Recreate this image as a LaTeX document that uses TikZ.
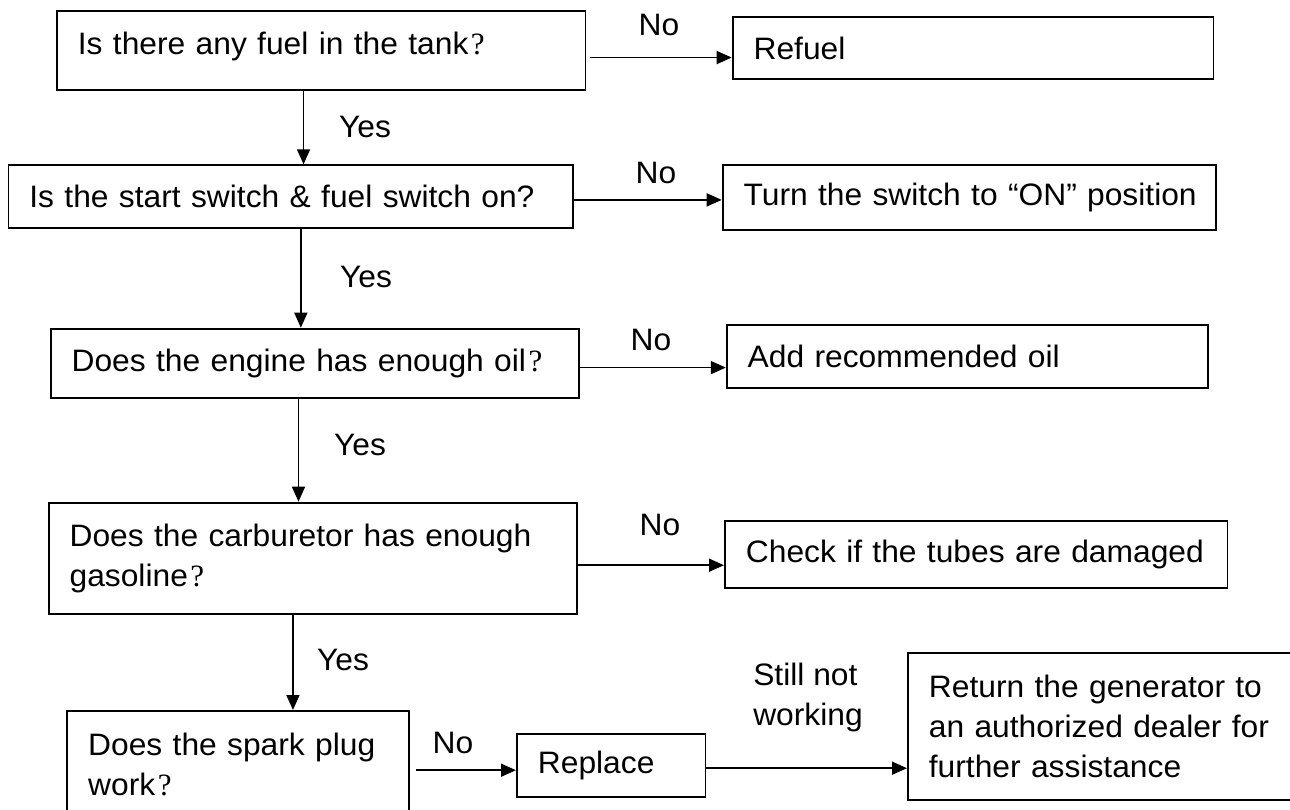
\documentclass[tikz,border=0pt]{standalone}
\usepackage{fontspec}
\setmainfont{Liberation Sans}[FakeStretch=1.025]
\newfontfamily\qfont{Liberation Serif}
\usetikzlibrary{arrows.meta}
\newcommand\fwq{\kern0.08em{\qfont ?}}

\begin{document}
\begin{tikzpicture}[x=0.5pt, y=-0.5pt,
  font=\fontsize{15.5pt}{20pt}\selectfont,
  box/.style={draw, line width=0.9pt, anchor=north west, inner xsep=10.5pt, inner ysep=0pt, align=left},
  lbl/.style={inner sep=0pt},
  arr/.style={line width=0.8pt, -{Triangle[length=7.5pt,width=6.5pt]}}]
\useasboundingbox (0,0) rectangle (1290,809);
\clip (0,0) rectangle (1290,809);
\fill[white] (0,0) rectangle (1290,809);
% questions, left column
\node[box, minimum width=264.25pt, minimum height=39.65pt, text width=243.25pt, text height=10.7pt, text depth=7.1pt] (fuel) at (56,10) {Is there any fuel in the tank\fwq};
\node[box, minimum width=282.25pt, minimum height=31.2pt, text width=261.25pt] (switch) at (7.5,164.3) {\mbox{Is the start switch \& fuel switch on?}};
\node[box, minimum width=264.3pt, minimum height=34.5pt, text width=243.3pt] (oil) at (49.7,327.7) {Does the engine has enough oil\fwq};
\node[box, minimum width=264.15pt, minimum height=55.8pt, text width=243.15pt] (carb) at (47.7,501.7) {Does the carburetor has enough\\gasoline\fwq};
\node[box, minimum width=171pt, minimum height=53.3pt, text width=150pt] (spark) at (66.3,710) {Does the spark plug\\work\fwq};
% actions, right column
\node[box, minimum width=240.45pt, minimum height=31.15pt, text width=219.45pt] (refuel) at (731.7,16) {Refuel};
\node[box, minimum width=246.65pt, minimum height=32.35pt, text width=225.65pt] (turn) at (721.7,164.3) {\mbox{Turn the switch to “ON” position}};
\node[box, minimum width=240.45pt, minimum height=31.35pt, text width=219.45pt] (addoil) at (725.8,324) {Add recommended oil};
\node[box, minimum width=251.3pt, minimum height=33.35pt, text width=230.3pt] (tubes) at (724,520) {\mbox{Check if the tubes are damaged}};
\node[box, minimum width=94.25pt, minimum height=31.2pt, text width=73.25pt] (replace) at (516,733.3) {Replace};
\node[box, minimum width=215pt, minimum height=73.5pt, text width=194pt] (dealer) at (907,652.3) {Return the generator to\\an authorized dealer for\\further assistance};
% yes arrows
\draw[arr] ([xshift=-8.8pt]fuel.south) -- ([xshift=-8.8pt]fuel.south |- switch.north);
\draw[arr] ([xshift=5.1pt]switch.south) -- ([xshift=5.1pt]switch.south |- oil.north);
\draw[arr] ([xshift=-8.2pt]oil.south) -- ([xshift=-8.2pt]oil.south |- carb.north);
\draw[arr] ([xshift=-9.9pt]carb.south) -- ([xshift=-9.9pt]carb.south |- spark.north);
% no arrows
\draw[arr, shorten <=1.75pt] ([yshift=-3.5pt]fuel.east) -- ([yshift=-3.5pt]fuel.east -| refuel.west);
\draw[arr] ([yshift=-1.75pt]switch.east) -- ([yshift=-1.75pt]switch.east -| turn.west);
\draw[arr] ([yshift=-2.25pt]oil.east) -- ([yshift=-2.25pt]oil.east -| addoil.west);
\draw[arr] ([yshift=-3.4pt]carb.east) -- ([yshift=-3.4pt]carb.east -| tubes.west);
\draw[arr, shorten <=3pt] ([yshift=-2.4pt]replace.west -| spark.east) -- ([yshift=-2.4pt]replace.west);
\draw[arr] ([yshift=-1.4pt]replace.east) -- ([yshift=-1.4pt]replace.east -| dealer.west);
% labels
\node[lbl] (yes1) at (365,127) {Yes};
\node[lbl] (yes2) at (366,277) {Yes};
\node[lbl] (yes3) at (360,445) {Yes};
\node[lbl] (yes4) at (343,660) {Yes};
\node[lbl] (no1) at (659,25) {No};
\node[lbl] (no2) at (656,173) {No};
\node[lbl] (no3) at (651,340) {No};
\node[lbl] (no4) at (660,525) {No};
\node[lbl] (no5) at (453,743) {No};
\node[lbl, align=left] (still) at (808,697) {Still not\\working};
\end{tikzpicture}
\end{document}
